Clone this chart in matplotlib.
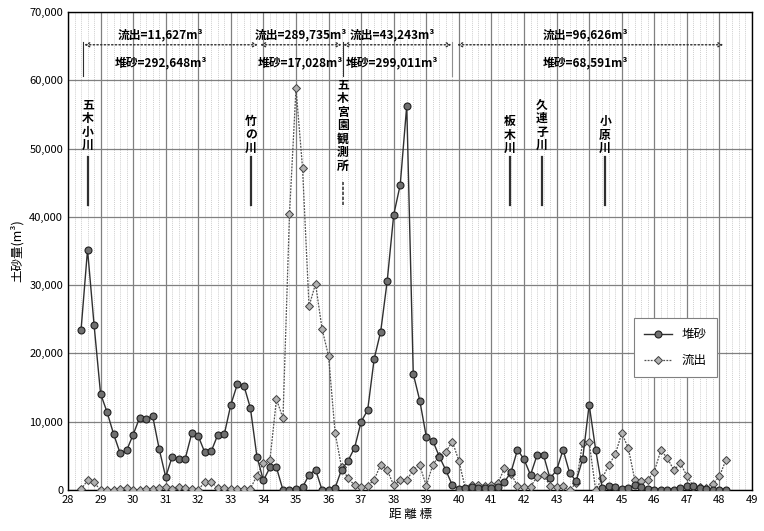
import numpy as np
import matplotlib
matplotlib.use('Agg')
import matplotlib.pyplot as plt
from matplotlib.ticker import FuncFormatter, MultipleLocator

plt.rcParams['font.family'] = ['Noto Sans CJK JP', 'DejaVu Sans']

# distance markers (km), one point every 0.2 km
km = [28.4, 28.6, 28.8, 29.0, 29.2, 29.4, 29.6, 29.8, 30.0, 30.2,
      30.4, 30.6, 30.8, 31.0, 31.2, 31.4, 31.6, 31.8, 32.0, 32.2,
      32.4, 32.6, 32.8, 33.0, 33.2, 33.4, 33.6, 33.8, 34.0, 34.2,
      34.4, 34.6, 34.8, 35.0, 35.2, 35.4, 35.6, 35.8, 36.0, 36.2,
      36.4, 36.6, 36.8, 37.0, 37.2, 37.4, 37.6, 37.8, 38.0, 38.2,
      38.4, 38.6, 38.8, 39.0, 39.2, 39.4, 39.6, 39.8, 40.0, 40.2,
      40.4, 40.6, 40.8, 41.0, 41.2, 41.4, 41.6, 41.8, 42.0, 42.2,
      42.4, 42.6, 42.8, 43.0, 43.2, 43.4, 43.6, 43.8, 44.0, 44.2,
      44.4, 44.6, 44.8, 45.0, 45.2, 45.4, 45.6, 45.8, 46.0, 46.2,
      46.4, 46.6, 46.8, 47.0, 47.2, 47.4, 47.6, 47.8, 48.0, 48.2]

# 堆砂 (deposition, m3)
taisha = [23400, 35200, 24200, 14100, 11400, 8200, 5400, 5800, 8100, 10600,
          10400, 10800, 6000, 1900, 4900, 4600, 4600, 8300, 7900, 5500,
          5700, 8100, 8200, 12500, 15500, 15300, 12000, 4900, 1400, 3300,
          3300, 0, 0, 200, 400, 2200, 3000, 0, 0, 300,
          3000, 4300, 6200, 10000, 11700, 19200, 23200, 30600, 40300, 44700,
          56300, 17000, 13100, 7800, 7200, 4900, 2900, 700, 200, 300,
          400, 300, 300, 300, 500, 1200, 2600, 5900, 4500, 2200,
          5100, 5100, 1700, 2900, 5900, 2500, 1300, 4500, 12500, 5900,
          300, 600, 500, 100, 300, 700, 500, 100, 0, 0,
          0, 0, 300, 600, 600, 300, 100, 0, 0, 0]

# 流出 (outflow, m3)
ryushutsu = [100, 1400, 1100, 0, 0, 0, 200, 300, 0, 0,
             200, 200, 300, 500, 200, 500, 300, 100, 0, 1200,
             1100, 300, 300, 100, 200, 200, 200, 2100, 4000, 4400,
             13300, 10500, 40400, 58800, 47200, 26900, 30200, 23600, 19600, 8400,
             3300, 1700, 700, 500, 600, 1500, 3700, 2900, 700, 1400,
             1400, 3000, 3600, 600, 3700, 5000, 5600, 7100, 4300, 200,
             700, 800, 600, 700, 1000, 3200, 2400, 600, 500, 500,
             1900, 2200, 600, 500, 600, 0, 1000, 6900, 7000, 0,
             1700, 3600, 5200, 8300, 6200, 1500, 1300, 1500, 2700, 5800,
             4700, 2900, 3900, 2100, 500, 500, 300, 900, 2000, 4400]

# section totals
sec_spans = [(28.5, 33.83), (33.9, 36.4), (36.45, 39.78), (39.95, 48.12)]
sec_ryu = ['流出=11,627m³', '流出=289,735m³', '流出=43,243m³', '流出=96,626m³']
sec_tai = ['堆砂=292,648m³', '堆砂=17,028m³', '堆砂=299,011m³', '堆砂=68,591m³']
sec_textx = [30.85, 35.15, 37.95, 43.9]

# tributaries / gauging station
rivers = ['五\n木\n小\n川', '竹\nの\n川', '五\n木\n宮\n園\n観\n測\n所',
          '板\n木\n川', '久\n連\n子\n川', '小\n原\n川']
river_km = [28.61, 33.62, 36.44, 41.57, 42.55, 44.49]
river_top = [57300, 54900, 60200, 54900, 57300, 54900]

fig = plt.figure(figsize=(7.64, 5.31), dpi=100)
ax = fig.add_axes([0.089, 0.0772, 0.8953, 0.9002])

# grid
ax.set_xlim(28, 49)
ax.set_ylim(0, 70000)
ax.xaxis.set_major_locator(MultipleLocator(1))
ax.xaxis.set_minor_locator(MultipleLocator(0.2))
ax.yaxis.set_major_locator(MultipleLocator(10000))
ax.grid(which='major', axis='both', color='#808080', lw=0.9)
ax.grid(which='minor', axis='x', color='#bdbdbd', lw=0.5, ls=(0, (1.5, 1.5)))
ax.set_axisbelow(True)
ax.tick_params(which='both', length=0)
ax.tick_params(labelsize=8)
ax.yaxis.set_major_formatter(FuncFormatter(lambda v, p: f'{int(v):,}'))
for s in ax.spines.values():
    s.set_color('black')
    s.set_linewidth(1.0)

ax.plot(km, taisha, color='#303030', lw=1.0, marker='o', ms=5,
        mfc='#707070', mec='#202020', mew=0.8, label='堆砂', zorder=4)
ax.plot(km, ryushutsu, color='#505050', lw=0.9, ls=(0, (1.5, 1)), marker='D', ms=4,
        mfc='#b0b0b0', mec='#404040', mew=0.7, label='流出', zorder=3)

# section arrows and totals
for (x0, x1), r, t, tx in zip(sec_spans, sec_ryu, sec_tai, sec_textx):
    ax.annotate('', xy=(x1, 65200), xytext=(x0, 65200),
                arrowprops=dict(arrowstyle='<->', ls=':', lw=1.0, color='#303030',
                                shrinkA=0, shrinkB=0, mutation_scale=7))
    ax.text(tx, 66700, r, ha='center', va='center', fontsize=8.5, fontweight='bold')
    ax.text(tx, 62600, t, ha='center', va='center', fontsize=8.5, fontweight='bold')
for xb in [28.45, 36.45]:
    ax.plot([xb, xb], [60700, 65600], color='#303030', lw=0.8)
ax.plot([39.8, 39.8], [60700, 65600], color='#909090', lw=0.8)

# river labels
for name, xr, top in zip(rivers, river_km, river_top):
    ax.text(xr, top, name, ha='center', va='top', fontsize=8.5, fontweight='bold',
            linespacing=1.05)
    if name.startswith('五\n木\n宮'):
        ax.plot([xr, xr], [41700, 45100], color='#404040', lw=1.2, ls=(0, (2, 1)))
    else:
        ax.plot([xr, xr], [41700, 48700], color='#303030', lw=1.6)

ax.set_xlabel('距 離 標', fontsize=9, labelpad=2)
ax.set_ylabel('土砂量(m³)', fontsize=9, labelpad=4)

leg = ax.legend(loc='upper left', bbox_to_anchor=(0.819, 0.372), fontsize=9,
                fancybox=False, edgecolor='#808080', framealpha=1,
                handlelength=2.2, labelspacing=1.0, borderpad=0.8)
leg.get_frame().set_linewidth(0.8)

fig.savefig('out.png', dpi=100)
